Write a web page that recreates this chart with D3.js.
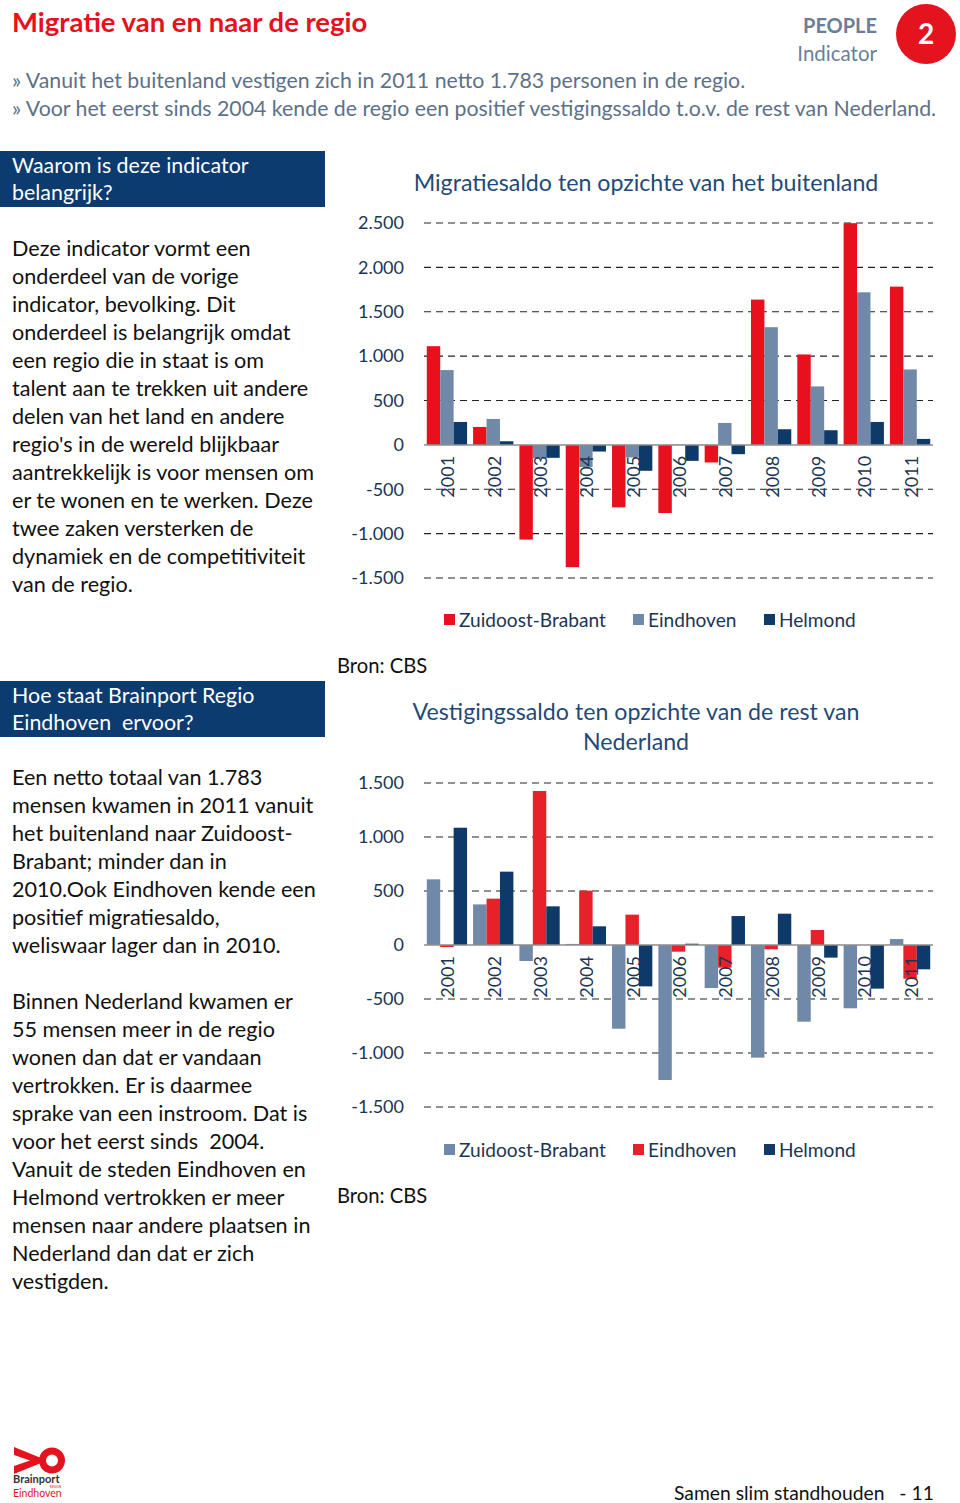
<!DOCTYPE html>
<html><head><meta charset="utf-8">
<script src="https://cdn.jsdelivr.net/npm/d3@7"></script>
<style>
html,body{margin:0;padding:0;background:#fff;}
svg{display:block;}
svg text{white-space:pre;}
</style></head>
<body>
<script>
// ---------- DATA ----------
const years = ["2001","2002","2003","2004","2005","2006","2007","2008","2009","2010","2011"];

// Chart 1: Migratiesaldo ten opzichte van het buitenland
const buitenlandZuidoostBrabant = [1112, 202, -1067, -1378, -704, -768, -198, 1637, 1019, 2498, 1783];
const buitenlandEindhoven       = [843, 292, -150, -250, -142, 5, 247, 1326, 659, 1719, 850];
const buitenlandHelmond         = [258, 41, -146, -75, -292, -180, -105, 176, 165, 258, 67];
const ticks1 = [-1500, -1000, -500, 0, 500, 1000, 1500, 2000, 2500];

// Chart 2: Vestigingssaldo ten opzichte van de rest van Nederland
const binnenlandZuidoostBrabant = [608, 376, -148, 10, -775, -1250, -398, -1043, -710, -586, 55];
const binnenlandEindhoven       = [-19, 429, 1426, 503, 281, -62, -210, -40, 139, 0, -312];
const binnenlandHelmond         = [1086, 679, 358, 173, -383, 12, 268, 290, -117, -404, -225];
const ticks2 = [-1500, -1000, -500, 0, 500, 1000, 1500];

const seriesNames = ["Zuidoost-Brabant", "Eindhoven", "Helmond"];

const introLines = [
  "» Vanuit het buitenland vestigen zich in 2011 netto 1.783 personen in de regio.",
  "» Voor het eerst sinds 2004 kende de regio een positief vestigingssaldo t.o.v. de rest van Nederland."
];
const box1Lines = ["Waarom is deze indicator", "belangrijk?"];
const para1 = ["Deze indicator vormt een","onderdeel van de vorige","indicator, bevolking. Dit","onderdeel is belangrijk omdat","een regio die in staat is om","talent aan te trekken uit andere","delen van het land en andere","regio's in de wereld blijkbaar","aantrekkelijk is voor mensen om","er te wonen en te werken. Deze","twee zaken versterken de","dynamiek en de competitiviteit","van de regio."];
const box2Lines = ["Hoe staat Brainport Regio", "Eindhoven  ervoor?"];
const para2 = ["Een netto totaal van 1.783","mensen kwamen in 2011 vanuit","het buitenland naar Zuidoost-","Brabant; minder dan in","2010.Ook Eindhoven kende een","positief migratiesaldo,","weliswaar lager dan in 2010."];
const para3 = ["Binnen Nederland kwamen er","55 mensen meer in de regio","wonen dan dat er vandaan","vertrokken. Er is daarmee","sprake van een instroom. Dat is","voor het eerst sinds  2004.","Vanuit de steden Eindhoven en","Helmond vertrokken er meer","mensen naar andere plaatsen in","Nederland dan dat er zich","vestigden."];

// ---------- STYLE ----------
const RED = "#e8101c", GRAY = "#7189a8", NAVY = "#0d3a68", BOXBLUE = "#0b3b6f";
const AXISTXT = "#1c3553", TITLEBLUE = "#1f4a78";
const FONT = "Lato, 'Open Sans', sans-serif";

const W = 960, H = 1503;
const svg = d3.select("body").append("svg").attr("width", W).attr("height", H)
  .style("font-family", FONT);

const nl = d3.formatLocale({decimal: ",", thousands: ".", grouping: [3], currency: ["€", ""], minus: "-"});
const fmt = nl.format(",d");

// ---------- HEADER ----------
svg.append("text").attr("x", 12).attr("y", 32).attr("fill", RED)
  .attr("font-size", 27.5).attr("font-weight", 700).text("Migratie van en naar de regio");
svg.append("text").attr("x", 877).attr("y", 33).attr("text-anchor", "end").attr("fill", "#6a7f96")
  .attr("font-size", 20).attr("font-weight", 700).text("PEOPLE");
svg.append("text").attr("x", 877).attr("y", 61).attr("text-anchor", "end").attr("fill", "#6a7f96")
  .attr("font-size", 20.5).text("Indicator");
svg.append("circle").attr("cx", 926).attr("cy", 34).attr("r", 30).attr("fill", "#e4141e");
svg.append("text").attr("x", 926).attr("y", 44).attr("text-anchor", "middle").attr("fill", "#fff")
  .attr("font-size", 28).attr("font-weight", 700).text("2");
svg.selectAll("text.intro").data(introLines).join("text").attr("class", "intro")
  .attr("x", 12).attr("y", (d, i) => 88 + i * 28).attr("fill", "#5d7189")
  .attr("font-size", 21.3).text(d => d);

// ---------- LEFT COLUMN ----------
function box(y, lines) {
  svg.append("rect").attr("x", 0).attr("y", y).attr("width", 325).attr("height", 56).attr("fill", BOXBLUE);
  lines.forEach((t, i) => svg.append("text").attr("x", 12).attr("y", y + 22 + i * 27)
    .attr("fill", "#fff").attr("font-size", 21.4).text(t));
}
function para(y0, lines) {
  lines.forEach((t, i) => svg.append("text").attr("x", 12).attr("y", y0 + i * 28)
    .attr("fill", "#111").attr("font-size", 21.6).text(t));
}
box(151, box1Lines);
para(256, para1);
box(681, box2Lines);
para(785, para2);
para(1009, para3);

// ---------- CHARTS ----------
function chart(opt) {
  const x0 = d3.scaleBand().domain(years).range([424, 933]).paddingInner(0.13).paddingOuter(0.06);
  const x1 = d3.scaleBand().domain([0, 1, 2]).range([0, x0.bandwidth()]);
  const y = d3.scaleLinear().domain(opt.domain).range(opt.range);
  const g = svg.append("g");

  // gridlines
  g.selectAll("line.grid").data(opt.ticks.filter(t => t !== 0)).join("line")
    .attr("x1", 424).attr("x2", 933).attr("y1", d => y(d)).attr("y2", d => y(d))
    .attr("stroke", "#222").attr("stroke-width", 1.2).attr("stroke-dasharray", "7,5");

  // y axis labels
  const ax = d3.axisLeft(y).tickValues(opt.ticks).tickFormat(fmt).tickSize(0).tickPadding(0);
  const axg = g.append("g").attr("transform", "translate(404,0)").call(ax);
  axg.select(".domain").remove();
  axg.selectAll("text").attr("fill", AXISTXT).attr("font-size", 18).attr("font-family", FONT);

  // bars
  const data = years.map((yr, i) => ({yr, vals: opt.series.map(s => s[i])}));
  const grp = g.selectAll("g.grp").data(data).join("g").attr("transform", d => `translate(${x0(d.yr)},0)`);
  grp.selectAll("rect").data(d => d.vals.map((v, k) => ({v, k}))).join("rect")
    .attr("x", d => x1(d.k)).attr("width", x1.bandwidth())
    .attr("y", d => Math.min(y(d.v), y(0))).attr("height", d => Math.abs(y(d.v) - y(0)))
    .attr("fill", d => opt.colors[d.k]);

  // zero line
  g.append("line").attr("x1", 424).attr("x2", 933).attr("y1", y(0)).attr("y2", y(0))
    .attr("stroke", "#8c8c8c").attr("stroke-width", 1.5);

  // category labels
  g.selectAll("text.cat").data(years).join("text")
    .attr("transform", d => `translate(${x0(d) + x0.bandwidth() / 2 + 1},${y(0) + 11}) rotate(-90)`)
    .attr("text-anchor", "end").attr("dy", "0.36em").attr("fill", AXISTXT)
    .attr("font-size", 18).text(d => d);

  // title
  opt.title.forEach((t, i) => g.append("text").attr("x", opt.titleX).attr("y", opt.titleY + i * 30)
    .attr("text-anchor", "middle").attr("fill", TITLEBLUE).attr("font-size", 23.2).text(t));

  // legend
  const lx = [444, 633, 764];
  seriesNames.forEach((n, k) => {
    g.append("rect").attr("x", lx[k]).attr("y", opt.legendY - 6).attr("width", 11).attr("height", 11)
      .attr("fill", opt.colors[k]);
    g.append("text").attr("x", lx[k] + 15).attr("y", opt.legendY + 7).attr("fill", AXISTXT)
      .attr("font-size", 19.1).text(n);
  });

  g.append("text").attr("x", 337).attr("y", opt.bronY).attr("fill", "#111")
    .attr("font-size", 20.2).text("Bron: CBS");
}

chart({
  domain: [-1500, 2500], range: [578, 223], ticks: ticks1,
  series: [buitenlandZuidoostBrabant, buitenlandEindhoven, buitenlandHelmond],
  colors: [RED, GRAY, NAVY],
  title: ["Migratiesaldo ten opzichte van het buitenland"], titleX: 646, titleY: 191,
  legendY: 620, bronY: 673
});
chart({
  domain: [-1500, 1500], range: [1107, 783], ticks: ticks2,
  series: [binnenlandZuidoostBrabant, binnenlandEindhoven, binnenlandHelmond],
  colors: [GRAY, "#e8202a", NAVY],
  title: ["Vestigingssaldo ten opzichte van de rest van", "Nederland"], titleX: 636, titleY: 720,
  legendY: 1150, bronY: 1203
});

// ---------- FOOTER ----------
const logo = svg.append("g");
logo.append("path").attr("d", "M14,1447 L41,1458 L41,1463 L14,1474 L14,1466 L30,1460.5 L14,1455 Z").attr("fill", "#e4141e");
logo.append("circle").attr("cx", 52).attr("cy", 1460.5).attr("r", 9.5).attr("fill", "none")
  .attr("stroke", "#e4141e").attr("stroke-width", 7);
logo.append("text").attr("x", 13).attr("y", 1483).attr("font-size", 11).attr("font-weight", 700)
  .attr("fill", "#333").text("Brainport");
logo.append("text").attr("x", 50).attr("y", 1487.6).attr("font-size", 3).attr("fill", "#e4141e").text("REGION");
logo.append("text").attr("x", 13).attr("y", 1497).attr("font-size", 10.5).attr("fill", "#e4141e").text("Eindhoven");

svg.append("text").attr("x", 674).attr("y", 1500).attr("fill", "#111").attr("font-size", 19.3)
  .text("Samen slim standhouden   - 11");
</script>
</body></html>
